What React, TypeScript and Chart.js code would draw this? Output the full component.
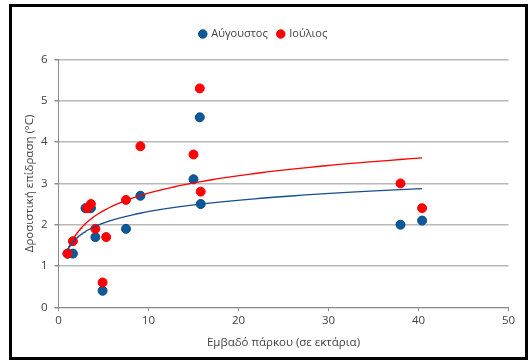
import { useEffect, useRef } from 'react';
import { Chart, registerables } from 'chart.js';

Chart.register(...registerables);

// ---- data ----
const seriesNames = ['Αύγουστος', 'Ιούλιος'];
const augustX = [1.0, 1.6, 3.0, 3.6, 4.1, 4.9, 7.5, 9.1, 15.0, 15.7, 15.8, 38.0, 40.4];
const augustY = [1.3, 1.3, 2.4, 2.4, 1.7, 0.4, 1.9, 2.7, 3.1, 4.6, 2.5, 2.0, 2.1];
const julyX = [1.0, 1.6, 3.2, 3.6, 4.1, 4.9, 5.3, 7.5, 9.1, 15.0, 15.7, 15.8, 38.0, 40.4];
const julyY = [1.3, 1.6, 2.4, 2.5, 1.9, 0.6, 1.7, 2.6, 3.9, 3.7, 5.3, 2.8, 3.0, 2.4];
const xTicks = [0, 10, 20, 30, 40, 50];
const yTicks = [0, 1, 2, 3, 4, 5, 6];
const xTitle = 'Εμβαδό πάρκου (σε εκτάρια)';
const yTitle = 'Δροσιστική επίδραση (°C)';

// logarithmic least-squares trendline (as the spreadsheet does), computed from the data
function logFit(xs: number[], ys: number[]) {
  const n = xs.length;
  const L = xs.map((v) => Math.log(v));
  const mL = L.reduce((a, b) => a + b, 0) / n;
  const mY = ys.reduce((a, b) => a + b, 0) / n;
  let sxy = 0;
  let sxx = 0;
  for (let i = 0; i < n; i++) {
    sxy += (L[i] - mL) * (ys[i] - mY);
    sxx += (L[i] - mL) * (L[i] - mL);
  }
  const a = sxy / sxx;
  return { a, b: mY - a * mL };
}
function trend(xs: number[], ys: number[]) {
  const { a, b } = logFit(xs, ys);
  const x0 = Math.min(...xs);
  const x1 = Math.max(...xs);
  const pts: { x: number; y: number }[] = [];
  const N = 120;
  for (let i = 0; i <= N; i++) {
    const x = x0 * Math.pow(x1 / x0, i / N);
    pts.push({ x, y: a * Math.log(x) + b });
  }
  return pts;
}

const FONT = "'Open Sans', 'Noto Sans', sans-serif";
const BLUE = '#0b5a9c';
const BLUE_EDGE = '#084b84';
const BLUE_LINE = '#15508c';
const RED = '#ff0000';

const legendSpacer = {
  id: 'legendSpacer',
  beforeUpdate(chart: any) {
    const lg = chart.legend;
    if (lg && !lg._patched) {
      const orig = lg.fit;
      lg.fit = function () {
        orig.call(this);
        this.height += 10;
      };
      lg._patched = true;
    }
  },
};

export default function App() {
  const ref = useRef<HTMLCanvasElement | null>(null);
  useEffect(() => {
    if (!ref.current) return;
    const chart = new Chart(ref.current, {
      type: 'scatter',
      data: {
        datasets: [
          {
            label: seriesNames[0],
            data: augustX.map((x, i) => ({ x, y: augustY[i] })),
            backgroundColor: BLUE,
            borderColor: BLUE_EDGE,
            borderWidth: 1,
            pointRadius: 4.5,
            pointStyle: 'circle',
            order: 2,
          },
          {
            label: seriesNames[1],
            data: julyX.map((x, i) => ({ x, y: julyY[i] })),
            backgroundColor: RED,
            borderColor: RED,
            borderWidth: 1,
            pointRadius: 4.5,
            pointStyle: 'circle',
            order: 1,
          },
          {
            label: 'trend-aug',
            type: 'line',
            data: trend(augustX, augustY),
            borderColor: BLUE_LINE,
            borderWidth: 1.3,
            pointRadius: 0,
            fill: false,
            tension: 0,
            order: 0,
          } as any,
          {
            label: 'trend-jul',
            type: 'line',
            data: trend(julyX, julyY),
            borderColor: RED,
            borderWidth: 1.3,
            pointRadius: 0,
            fill: false,
            tension: 0,
            order: 0,
          } as any,
        ],
      },
      options: {
        responsive: false,
        animation: false,
        events: [],
        layout: { padding: { top: 18.5, left: 18.5, right: 21.5, bottom: 10.3 } },
        plugins: {
          tooltip: { enabled: false },
          legend: {
            position: 'top',
            labels: {
              usePointStyle: true,
              boxWidth: 6,
              boxHeight: 6,
              padding: 10,
              color: '#404040',
              font: { family: FONT, size: 11 },
              filter: (item: any) => item.datasetIndex < 2,
              sort: (a: any, b: any) => a.datasetIndex - b.datasetIndex,
            },
          },
        },
        scales: {
          x: {
            type: 'linear',
            min: 0,
            max: 50,
            afterBuildTicks: (s: any) => {
              s.ticks = xTicks.map((v) => ({ value: v }));
            },
            afterFit: (s: any) => {
              s.height = 46.4;
            },
            ticks: {
              color: '#404040',
              padding: 3,
              font: { family: FONT, size: 11.5 },
            },
            grid: {
              drawOnChartArea: false,
              drawTicks: true,
              tickLength: 4,
              tickColor: '#8c8c8c',
            },
            border: { display: true, color: '#8c8c8c', width: 1 },
            title: {
              display: true,
              text: xTitle,
              color: '#404040',
              font: { family: FONT, size: 11.5 },
              padding: { top: 4, bottom: 4 },
            },
          },
          y: {
            type: 'linear',
            min: 0,
            max: 6,
            afterBuildTicks: (s: any) => {
              s.ticks = yTicks.map((v) => ({ value: v }));
            },
            afterFit: (s: any) => {
              s.width = 40;
            },
            ticks: {
              color: '#404040',
              padding: 7,
              font: { family: FONT, size: 11.5 },
            },
            grid: {
              color: '#b8b8b8',
              lineWidth: 1.5,
              drawTicks: true,
              tickLength: 4,
              tickColor: '#8c8c8c',
            },
            border: { display: true, color: '#8c8c8c', width: 1 },
            title: {
              display: true,
              text: yTitle,
              color: '#404040',
              font: { family: FONT, size: 11.5 },
              padding: { top: 4, bottom: 4 },
            },
          },
        },
      },
      plugins: [legendSpacer],
    });
    return () => chart.destroy();
  }, []);

  return (
    <div style={{ position: 'fixed', left: 0, top: 0, width: 530, height: 364, background: '#fff' }}>
      <canvas ref={ref} width={530} height={364} style={{ display: 'block' }} />
      <div
        style={{
          position: 'absolute',
          left: 9,
          top: 4,
          width: 519,
          height: 356,
          border: '3px solid #000',
          boxSizing: 'border-box',
          pointerEvents: 'none',
        }}
      />
    </div>
  );
}
